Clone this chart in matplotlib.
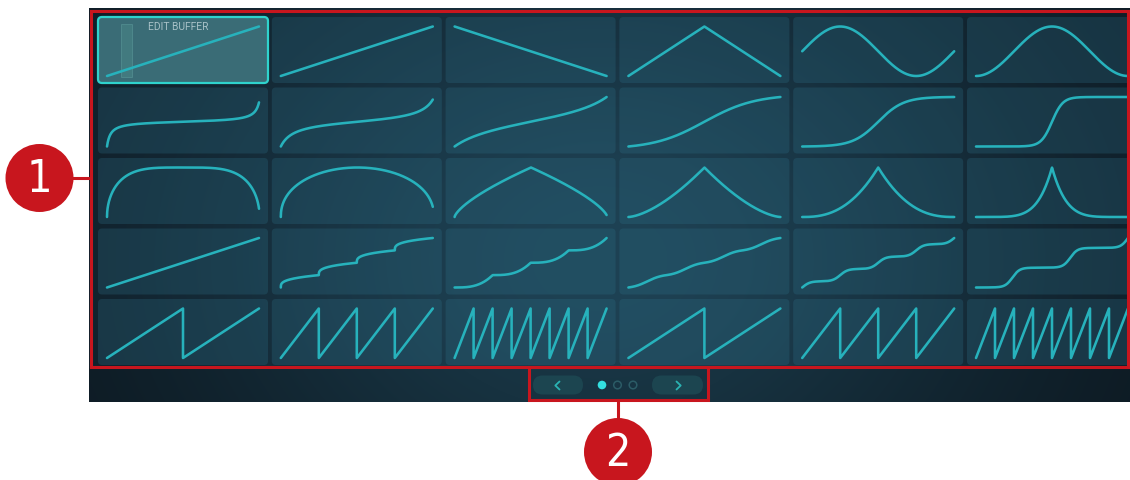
import numpy as np
import matplotlib
matplotlib.use('Agg')
import matplotlib.pyplot as plt
from matplotlib.patches import FancyBboxPatch, Rectangle, Circle

W, H = 1130, 480

# ---------------- data ----------------
ROW0_SHAPES = ['ramp_up', 'ramp_up', 'ramp_down', 'triangle', 'sine', 'bell']
SCURVE_K = [-1.5, -1.35, -1.0, 1.5, 3.0, 7.0]          # <0: tan-like, >0: sigmoid
SCURVE_TEND = [0.987, 0.982, 1.0, 1.0, 1.0, 1.0]
ARCH_A = [4.0, 2.0, 1.0, 1.0, 1.0, 1.0]
ARCH_B = [0.5, 0.45, 0.7, 1.55, 2.5, 5.5]
ARCH_TEND = [0.993, 0.985, 0.99, 1.0, 1.0, 1.0]
STAIR_KIND = ['linear', 'pow', 'pow', 'tanh', 'tanh', 'tanh']
STAIR_N = [1, 4, 4, 4, 4, 2.63]
STAIR_SHAPE = [1.0, 0.3, 3.0, 2.5, 5.0, 8.0]
STAIR_PHASE = [0.0, 0.0, 0.0, 0.5, 0.0, 0.37]
SAW_TEETH = [2, 4, 8, 2, 4, 8]
PAGE_COUNT = 3
CURRENT_PAGE = 0
CALLOUTS = ['1', '2']
EDIT_LABEL = 'EDIT BUFFER'

# ---------------- style ----------------
CURVE_COLOR = '#27b2bc'
RED = '#c8161e'
N_COLS, N_ROWS = 6, 5
COL_LEFT0, COL_PITCH, CELL_W = 98.0, 173.8, 170.0
ROW_TOP0, ROW_PITCH, CELL_H = 17.0, 70.5, 66.0


def shape_row0(i):
    x = np.linspace(0, 1, 600)
    k = ROW0_SHAPES[i]
    if k == 'ramp_up':
        y = x
    elif k == 'ramp_down':
        y = 1 - x
    elif k == 'triangle':
        y = 1 - np.abs(2 * x - 1)
    elif k == 'sine':
        y = 0.5 + 0.5 * np.sin(2 * np.pi * x)
    else:
        y = 0.5 - 0.5 * np.cos(2 * np.pi * x)
    return x, y


def shape_row1(i):
    k, te = SCURVE_K[i], SCURVE_TEND[i]
    t = np.linspace(-1, te, 3000)
    if k < 0:
        kk = -k
        y = 0.5 + 0.5 * np.tan(kk * t) / np.tan(kk)
    else:
        y = 0.5 + 0.5 * np.tanh(k * t) / np.tanh(k)
    x = (t + 1) / (1 + te)
    return x, y


def shape_row2(i):
    a, b, te = ARCH_A[i], ARCH_B[i], ARCH_TEND[i]
    t = np.linspace(-1, te, 3000)
    y = np.clip(1 - np.abs(t) ** a, 0, 1) ** b
    x = (t + 1) / (1 + te)
    return x, y


def shape_row3(i):
    kind, n, s, ph = STAIR_KIND[i], STAIR_N[i], STAIR_SHAPE[i], STAIR_PHASE[i]
    x = np.linspace(0, 1, 4000)
    if kind == 'linear':
        return x, x
    if kind == 'pow':
        v = n * x
        m = np.minimum(np.floor(v), n - 1)
        u = v - m
        y = (m + u ** s) / n
        return x, y
    v = n * x + ph
    m = np.round(v)
    r = v - m
    g = m + 0.5 * np.tanh(s * r) / np.tanh(s / 2)
    y = (g - g[0]) / (g[-1] - g[0])
    return x, y


def shape_row4(i):
    n = SAW_TEETH[i]
    xs, ys = [], []
    for k in range(n):
        xs += [k / n, (k + 1) / n]
        ys += [0.0, 1.0]
    return np.array(xs), np.array(ys)


ROW_FUNCS = [shape_row0, shape_row1, shape_row2, shape_row3, shape_row4]

fig = plt.figure(figsize=(W / 100, H / 100), dpi=100)
fig.patch.set_facecolor('white')
ax = fig.add_axes([0, 0, 1, 1])
ax.set_xlim(0, W)
ax.set_ylim(H, 0)
ax.axis('off')

# panel background gradient
px0, px1, py0, py1 = 89, 1130, 8, 402
xs = np.linspace(px0, px1, 521)
ys = np.linspace(py0, py1, 198)
X, Y = np.meshgrid(xs, ys)
w = np.exp(-((X - 600) / 430) ** 2 - ((Y - 260) / 330) ** 2)
dark = np.array([13, 25, 34]) / 255
light = np.array([30, 66, 84]) / 255
img = dark[None, None, :] + w[..., None] * (light - dark)[None, None, :]
img[Y > 368] *= 0.86
ax.imshow(np.clip(img, 0, 1), extent=[px0, px1, py1, py0], origin='upper',
          interpolation='bilinear', aspect='auto', zorder=0)

# cells
for r in range(N_ROWS):
    for c in range(N_COLS):
        lx = COL_LEFT0 + c * COL_PITCH
        ty = ROW_TOP0 + r * ROW_PITCH
        if r == 0 and c == 0:
            p = FancyBboxPatch((lx, ty), CELL_W, CELL_H,
                               boxstyle='round,pad=0,rounding_size=4',
                               fc='#3a6c76', ec='#2fd3cd', lw=1.6, zorder=2)
            ax.add_patch(p)
            ax.add_patch(Rectangle((121, 24), 11, 53, fc='#4c8c8c', alpha=0.45,
                                   ec='#66a8a8', lw=0.6, zorder=3))
            ax.text(lx + 80, ty + 9.5, EDIT_LABEL, color='#a8c1c7', fontsize=7.4,
                    family='Roboto', ha='center', va='center', zorder=4)
        else:
            p = FancyBboxPatch((lx, ty), CELL_W, CELL_H,
                               boxstyle='round,pad=0,rounding_size=4',
                               fc='#2e7088', alpha=0.28, ec='none', zorder=2)
            ax.add_patch(p)

# navigation bar
for (bx, bw) in [(533, 50), (652, 51)]:
    ax.add_patch(FancyBboxPatch((bx, 375.5), bw, 19,
                                boxstyle='round,pad=0,rounding_size=9.5',
                                fc='#1c4550', ec='none', zorder=2))
ax.plot([559.5, 555.3, 559.5], [381.5, 385.5, 389.5], color='#2ab3b3', lw=1.3,
        solid_capstyle='round', solid_joinstyle='round', zorder=3)
ax.plot([676.5, 680.7, 676.5], [381.5, 385.5, 389.5], color='#2ab3b3', lw=1.3,
        solid_capstyle='round', solid_joinstyle='round', zorder=3)
for pg in range(PAGE_COUNT):
    cx = 602 + pg * 15.5
    if pg == CURRENT_PAGE:
        ax.add_patch(Circle((cx, 385), 4.3, fc='#33dfe0', ec='none', zorder=3))
    else:
        ax.add_patch(Circle((cx, 385), 3.8, fc='none', ec='#2b5b66', lw=1.1, zorder=3))

# curves in per-cell axes
for r in range(N_ROWS):
    for c in range(N_COLS):
        lx = COL_LEFT0 + c * COL_PITCH
        ty = ROW_TOP0 + r * ROW_PITCH
        x0, bw = lx + 9, 152.0
        top, bh = ty + 9.5, 49.5
        cax = fig.add_axes([x0 / W, 1 - (top + bh) / H, bw / W, bh / H])
        cax.set_xlim(0, 1)
        cax.set_ylim(0, 1)
        cax.axis('off')
        xx, yy = ROW_FUNCS[r](c)
        cax.plot(xx, yy, color=CURVE_COLOR, lw=1.85, solid_capstyle='round',
                 solid_joinstyle='round', clip_on=False)

# red callouts on top
top_ax = fig.add_axes([0, 0, 1, 1])
top_ax.set_xlim(0, W)
top_ax.set_ylim(H, 0)
top_ax.axis('off')
top_ax.patch.set_alpha(0)
top_ax.add_patch(Rectangle((90.5, 10.5), 1037, 356.5, fc='none', ec=RED, lw=2.2))
top_ax.add_patch(Rectangle((528.5, 367), 179, 32.5, fc='none', ec=RED, lw=2.2))
top_ax.plot([70, 90.5], [178, 178], color=RED, lw=2.2)
top_ax.plot([618, 618], [399.5, 420], color=RED, lw=2.2)
for (cx, cy), lab in zip([(39.5, 178), (618, 452)], CALLOUTS):
    top_ax.add_patch(Circle((cx, cy), 34, fc=RED, ec='none'))
    top_ax.text(cx, cy + 1, lab, color='white', fontsize=32,
                family='DejaVu Sans', fontstretch='condensed', fontweight='light',
                ha='center', va='center')

fig.savefig('out.png', dpi=100, facecolor='white')
